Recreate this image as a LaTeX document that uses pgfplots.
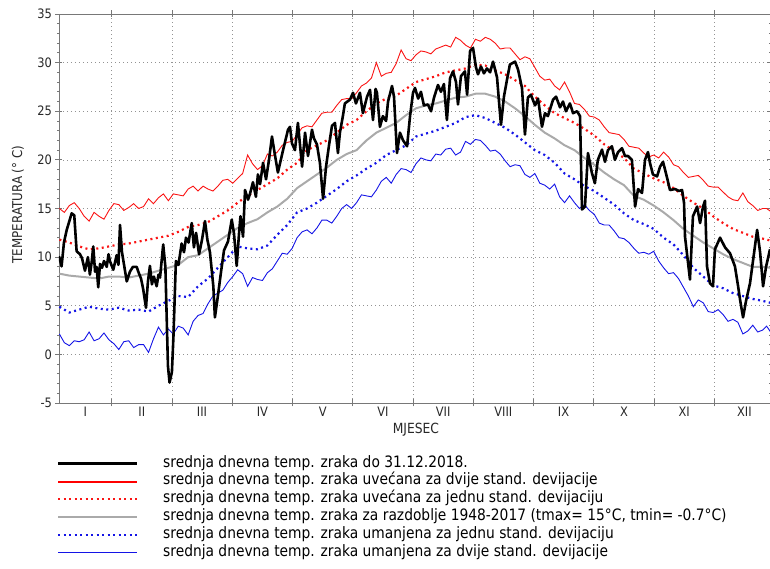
\documentclass[border=0pt]{standalone}
\usepackage{pgfplots}
\pgfplotsset{compat=1.18}
\usepackage{fontspec}
\setmainfont{DejaVu Sans}[FakeStretch=0.88]
\definecolor{myred}{RGB}{250,20,20}
\definecolor{myblue}{RGB}{20,20,230}
\definecolor{mygray}{RGB}{170,170,170}
\definecolor{axgray}{RGB}{120,120,120}
\definecolor{txt}{RGB}{40,40,40}
\begin{document}
\begin{tikzpicture}
\begin{axis}[
  scale only axis, width=711pt, height=389pt,
  xmin=3.8, xmax=362.7, ymin=-5, ymax=35,
  axis line style={axgray, line width=0.8pt},
  xtick={30.42,60.83,91.25,121.67,152.08,182.5,212.92,243.33,273.75,304.17,334.58},
  xticklabels={},
  extra x ticks={17.1,45.6,76.0,106.5,136.9,167.3,197.7,228.1,258.5,289.0,319.4,349.8},
  extra x tick labels={I,II,III,IV,V,VI,VII,VIII,IX,X,XI,XII},
  extra x tick style={major tick length=0pt, xmajorgrids=false},
  ytick={-5,0,5,10,15,20,25,30,35},
  yticklabels={-5,0,5,10,15,20,25,30,35},
  minor y tick num=4,
  tick align=center, major tick length=7pt, minor tick length=3pt,
  tick style={axgray, line width=0.8pt},
  xmajorgrids, ymajorgrids,
  major grid style={axgray!80, line width=0.7pt, dash pattern=on 0.8pt off 3.2pt},
  ticklabel style={font=\fontsize{13}{15}\selectfont, text=txt},
  every axis y label/.style={at={(axis description cs:-0.0577,0.51)}, rotate=90, anchor=center, font=\fontsize{13.5}{15}\selectfont, text=txt},
  every axis x label/.style={at={(axis description cs:0.502,-0.0686)}, anchor=center, font=\fontsize{14}{16}\selectfont, text=txt},
  ylabel={TEMPERATURA (° C)},
  xlabel={MJESEC},
]
\addplot[myblue, line width=0.9pt] coordinates {
(4,2.1)(6.5,1.2)(9,0.9)(11.5,1.4)(14,1.3)(16.5,1.5)(19,2.3)(21.5,1.4)(24,1.6)(26.5,2.2)(29,1.5)(31.5,1.1)(34,0.5)(36.5,1.3)(39,1.4)(41.5,0.7)(44,1.0)(46.5,1.0)(49,0.2)(51.5,1.6)(54,2.8)(56.5,2.0)(59,2.6)(61.5,2.1)(64,2.9)(66.5,2.7)(69,2.0)(71.5,3.4)(74,4.0)(76.5,4.2)(79,5.2)(81.5,6.0)(84,6.3)(86.5,6.6)(89,7.4)(91.5,8.0)(94,8.7)(96.5,8.3)(99,7.0)(101.5,7.9)(104,7.7)(106.5,7.6)(109,8.4)(111.5,8.8)(114,9.6)(116.5,10.4)(119,10.3)(121.5,10.9)(124,12.0)(126.5,12.6)(129,12.8)(131.5,12.4)(134,13.0)(136.5,13.8)(139,13.8)(141.5,13.5)(144,14.2)(146.5,15.0)(149,15.4)(151.5,15.0)(154,15.6)(156.5,16.4)(159,16.3)(161.5,16.2)(164,16.9)(166.5,17.8)(169,18.2)(171.5,17.6)(174,18.5)(176.5,19.1)(179,19.0)(181.5,18.7)(184,19.6)(186.5,20.2)(189,20.0)(191.5,19.9)(194,20.6)(196.5,20.5)(199,21.1)(201.5,21.2)(204,20.5)(206.5,20.8)(209,21.9)(211.5,21.6)(214,22.1)(216.5,22.0)(219,21.5)(221.5,20.9)(224,21.0)(226.5,20.6)(229,19.9)(231.5,19.3)(234,19.5)(236.5,19.4)(239,18.5)(241.5,18.2)(244,18.6)(246.5,17.6)(249,17.4)(251.5,17.0)(254,17.5)(256.5,16.2)(259,15.6)(261.5,16.3)(264,15.6)(266.5,15.0)(269,15.4)(271.5,14.8)(274,14.4)(276.5,13.5)(279,13.3)(281.5,13.3)(284,12.7)(286.5,12.0)(289,11.9)(291.5,11.5)(294,10.9)(296.5,10.4)(299,10.5)(301.5,10.3)(304,10.6)(306.5,9.6)(309,8.9)(311.5,8.3)(314,8.4)(316.5,7.8)(319,6.9)(321.5,6.0)(324,4.9)(326.5,5.6)(329,5.3)(331.5,4.4)(334,4.3)(336.5,4.6)(339,4.1)(341.5,3.4)(344,3.6)(346.5,3.3)(349,2.1)(351.5,2.4)(354,3.0)(356.5,2.3)(359,2.5)(361,2.9)(363,2.3)};
\addplot[myblue, line width=2.2pt, dash pattern=on 2pt off 3.5pt] coordinates {
(4,4.9)(9,4.3)(14,4.6)(19,4.9)(24,4.7)(29,4.6)(34,4.8)(39,4.5)(44,4.6)(49,4.4)(54,5.0)(59,5.5)(64,6.0)(69,5.9)(74,7.0)(79,7.8)(84,8.9)(89,10.0)(94,11.1)(99,10.9)(104,10.8)(109,11.2)(114,12.3)(119,13.3)(124,14.6)(129,15.0)(134,15.6)(139,16.3)(144,17.0)(149,17.8)(154,18.4)(159,19.1)(164,19.7)(169,20.5)(174,21.0)(179,21.5)(184,22.4)(189,22.7)(194,23.0)(199,23.4)(204,23.8)(209,24.4)(214,24.6)(219,24.3)(224,23.8)(229,23.3)(234,22.6)(239,21.8)(244,21.0)(249,20.5)(254,19.7)(259,18.6)(264,18.0)(269,17.3)(274,16.8)(279,16.1)(284,15.4)(289,14.5)(294,13.8)(299,13.4)(304,12.9)(309,12.0)(314,11.3)(319,10.2)(324,8.9)(329,8.0)(334,7.1)(339,6.8)(344,6.3)(349,6.0)(354,5.7)(359,5.5)(363,5.3)};
\addplot[mygray, line width=2pt] coordinates {
(4,8.3)(9,8.1)(14,8.0)(19,7.9)(24,7.8)(29,8.0)(34,8.0)(39,7.9)(44,8.1)(49,8.3)(54,8.6)(59,8.9)(64,9.2)(69,10.0)(74,10.2)(79,10.9)(84,11.6)(89,12.3)(94,13.0)(99,13.5)(104,13.9)(109,14.6)(114,15.2)(119,16.0)(124,17.1)(129,17.8)(134,18.5)(139,19.2)(144,20.0)(149,20.6)(154,21.0)(159,22.0)(164,22.8)(169,23.3)(174,23.8)(179,24.6)(184,25.3)(189,25.6)(194,25.8)(199,26.1)(204,26.4)(209,26.5)(214,26.8)(219,26.8)(224,26.5)(229,26.0)(234,25.3)(239,24.5)(244,23.6)(249,22.8)(254,22.2)(259,21.5)(264,21.0)(269,20.2)(274,19.5)(279,18.7)(284,18.0)(289,17.4)(294,16.3)(299,15.9)(304,15.3)(309,14.6)(314,13.8)(319,12.9)(324,12.2)(329,11.5)(334,10.9)(339,10.3)(344,9.8)(349,9.4)(354,9.0)(359,9.0)(363,8.9)};
\addplot[myred, line width=2.2pt, dash pattern=on 2pt off 3.5pt] coordinates {
(4,11.8)(9,11.5)(14,11.1)(19,10.8)(24,10.9)(29,11.1)(34,11.3)(39,11.4)(44,11.6)(49,11.8)(54,12.0)(59,12.2)(64,12.6)(69,13.1)(74,13.3)(79,13.6)(84,14.2)(89,14.8)(94,15.6)(99,16.3)(104,16.9)(109,17.5)(114,18.1)(119,19.0)(124,19.7)(129,21.0)(134,21.5)(139,22.0)(144,22.8)(149,23.6)(154,24.1)(159,25.0)(164,25.8)(169,26.3)(174,26.6)(179,27.3)(184,28.0)(189,28.3)(194,28.6)(199,29.0)(204,29.2)(209,29.4)(214,29.8)(219,29.7)(224,29.2)(229,28.8)(234,28.2)(239,27.6)(244,26.5)(249,25.6)(254,24.8)(259,24.3)(264,23.8)(269,23.2)(274,22.5)(279,21.6)(284,20.9)(289,20.2)(294,19.1)(299,18.6)(304,18.1)(309,17.7)(314,17.1)(319,16.3)(324,15.6)(329,15.0)(334,14.2)(339,13.5)(344,12.9)(349,12.5)(354,12.1)(359,11.9)(363,11.7)};
\addplot[myred, line width=0.9pt] coordinates {
(4,15.0)(6.5,14.6)(9,15.3)(11.5,15.6)(14,15.0)(16.5,14.2)(19,13.7)(21.5,14.6)(24,14.2)(26.5,13.9)(29,14.8)(31.5,15.5)(34,15.4)(36.5,14.8)(39,15.1)(41.5,15.5)(44,15.0)(46.5,15.2)(49,16.0)(51.5,15.5)(54,16.1)(56.5,16.5)(59,15.8)(61.5,16.5)(64,16.4)(66.5,16.3)(69,17.0)(71.5,17.3)(74,16.8)(76.5,17.3)(79,17.0)(81.5,16.8)(84,17.3)(86.5,17.9)(89,18.0)(91.5,17.6)(94,18.1)(96.5,18.6)(99,20.5)(101.5,19.6)(104,19.0)(106.5,19.4)(109,20.6)(111.5,20.4)(114,20.8)(116.5,21.5)(119,21.8)(121.5,21.9)(124,22.6)(126.5,23.3)(129,23.5)(131.5,23.4)(134,24.1)(136.5,24.8)(139,24.9)(141.5,24.9)(144,25.6)(146.5,26.2)(149,26.3)(151.5,26.3)(154,26.9)(156.5,27.6)(159,27.9)(161.5,28.4)(164,30.0)(166.5,28.6)(169,28.9)(171.5,29.0)(174,29.9)(176.5,31.3)(179,30.4)(181.5,30.2)(184,30.8)(186.5,31.2)(189,31.1)(191.5,30.9)(194,31.4)(196.5,31.6)(199,31.8)(201.5,31.6)(204,32.6)(206.5,32.3)(209,31.8)(211.5,31.5)(214,32.4)(216.5,32.2)(219,32.6)(221.5,32.4)(224,32.0)(226.5,31.4)(229,31.5)(231.5,31.5)(234,30.9)(236.5,30.3)(239,30.6)(241.5,30.4)(244,29.5)(246.5,28.6)(249,28.2)(251.5,28.3)(254,27.6)(256.5,27.2)(259,28.0)(261.5,27.0)(264,25.8)(266.5,25.7)(269,25.2)(271.5,24.5)(274,24.4)(276.5,24.1)(279,23.4)(281.5,22.8)(284,22.7)(286.5,22.6)(289,22.1)(291.5,21.4)(294,21.3)(296.5,21.2)(299,20.7)(301.5,20.3)(304,20.5)(306.5,20.2)(309,20.8)(311.5,20.3)(314,19.5)(316.5,19.3)(319,18.7)(321.5,18.2)(324,18.3)(326.5,18.4)(329,17.9)(331.5,17.3)(334,17.2)(336.5,17.2)(339,16.7)(341.5,16.2)(344,15.9)(346.5,15.8)(349,16.6)(351.5,15.7)(354,15.3)(356.5,14.8)(359,15.0)(361,15.0)(363,14.7)};
\addplot[black, line width=2.6pt, line join=round] coordinates {
(3.8,10.1)(5.1,9.05)(6.3,11.5)(7.7,12.8)(10.2,14.5)(11.5,14.3)(12.7,10.6)(14.4,10.3)(15.4,9.9)(16.9,8.6)(18.4,10.0)(19.4,8.2)(20.3,9.5)(21.1,11.1)(22.0,8.5)(22.8,9.0)(23.6,6.9)(24.5,9.3)(25.5,8.9)(26.5,9.6)(27.9,9.0)(28.8,10.3)(29.5,9.6)(31.2,8.7)(32.9,10.2)(33.8,9.2)(34.6,13.3)(35.6,10.5)(38.0,7.5)(39.6,8.5)(41.1,9.0)(43.0,9.0)(44.2,8.3)(45.2,7.8)(46.3,6.7)(47.7,4.8)(48.7,7.5)(49.7,9.1)(50.7,7.2)(51.7,8.0)(53.1,7.0)(54.0,8.2)(54.8,7.9)(56.4,11.3)(57.5,9.0)(58.8,-1.2)(59.6,-2.9)(60.8,-1.8)(61.6,2.0)(62.8,9.6)(64.1,9.2)(65.7,11.4)(66.9,10.5)(67.9,12.0)(69.2,11.5)(70.8,13.5)(71.9,11.0)(73.0,12.5)(74.5,10.3)(76.0,11.8)(77.5,13.7)(78.7,11.8)(80.0,10.5)(81.7,7.0)(82.5,3.8)(84.0,6.0)(85.6,8.5)(87.1,10.7)(89.1,11.6)(91.0,13.85)(92.1,12.5)(93.5,9.1)(94.7,12.5)(95.4,14.2)(96.7,12.1)(97.7,16.9)(99.2,15.9)(100.2,16.5)(101.7,17.7)(103.2,16.2)(104.2,18.5)(105.3,17.5)(106.8,19.7)(108.3,18.0)(109.8,20.0)(111.3,22.4)(112.8,20.5)(114.3,18.7)(116.9,21.0)(119.4,23.1)(120.4,23.4)(121.4,21.7)(122.9,21.0)(124.4,23.8)(126.5,19.3)(128.0,22.8)(129.5,20.4)(131.5,23.1)(132.5,22.2)(134.0,21.6)(135.5,19.7)(137.1,16.0)(138.6,19.3)(140.1,21.5)(141.6,23.5)(143.1,23.8)(144.6,20.7)(145.6,22.8)(147.1,24.5)(148.1,25.8)(150.7,26.2)(152.2,26.9)(153.7,25.8)(155.7,26.9)(157.2,24.8)(159.3,26.5)(160.8,27.2)(162.3,24.1)(163.6,27.3)(164.3,26.9)(165.8,23.4)(167.3,24.5)(168.9,24.0)(169.9,26.0)(171.9,27.6)(172.9,26.5)(174.4,20.7)(175.9,22.8)(177.5,22.0)(179.5,21.4)(181.0,24.5)(182.5,26.9)(183.5,27.4)(185.1,26.3)(186.5,27.0)(188.0,25.6)(190.0,25.7)(191.6,25.0)(193.1,26.4)(195.1,27.7)(196.6,27.0)(198.1,27.8)(199.6,24.1)(201.2,28.4)(202.7,29.1)(204.2,28.0)(205.2,25.7)(206.7,28.6)(208.7,29.1)(209.8,26.7)(211.3,31.2)(212.8,31.5)(214.3,29.5)(215.3,28.8)(216.8,29.6)(218.3,28.9)(219.8,29.4)(221.4,29.0)(222.9,30.1)(224.9,28.5)(225.9,26.0)(226.9,23.6)(228.4,26.5)(229.9,28.2)(231.4,29.8)(234.0,30.1)(235.5,29.3)(237.5,27.4)(239.0,22.6)(240.5,26.4)(242.0,26.7)(244.1,25.6)(245.6,26.3)(247.6,23.4)(249.1,24.8)(250.6,24.5)(253.2,26.2)(254.7,26.5)(256.7,25.4)(258.2,26.0)(259.7,25.0)(261.7,25.8)(263.3,24.8)(265.3,25.0)(266.8,24.5)(267.8,14.9)(269.3,15.2)(270.8,20.7)(272.8,18.65)(274.3,17.6)(275.8,20.0)(277.9,21.05)(279.4,19.8)(280.9,21.0)(282.9,21.4)(284.4,20.0)(286.0,20.8)(288.0,21.2)(289.5,20.4)(291.0,20.4)(293.0,20.0)(294.6,15.2)(296.1,17.0)(298.1,16.6)(299.6,20.0)(301.1,20.8)(302.1,19.7)(303.6,18.5)(305.7,18.3)(307.2,19.3)(308.7,19.8)(310.7,18.2)(312.2,16.9)(314.8,17.0)(316.8,16.8)(318.3,16.9)(319.3,15.6)(319.8,12.1)(322.3,7.7)(323.8,14.2)(325.9,15.2)(327.4,13.5)(328.9,15.2)(329.9,15.8)(330.9,9.05)(332.4,7.3)(333.9,7.0)(334.9,10.8)(337.5,12.0)(340.0,11.0)(342.5,10.4)(345.0,9.05)(346.6,7.0)(347.6,5.6)(349.1,3.8)(350.6,5.5)(352.6,7.3)(354.7,10.5)(356.2,12.8)(357.7,10.5)(359.2,7.0)(360.7,9.0)(362.7,10.8)};
\end{axis}
\begin{scope}[every node/.style={anchor=west, inner sep=0pt, text height=10pt, text depth=3pt, font=\fontsize{15.7}{17}\selectfont}]
\draw[black, line width=3pt] (-1pt,-60.7pt) -- (78pt,-60.7pt);
\node at (104pt,-60.7pt) {srednja dnevna temp. zraka do 31.12.2018.};
\draw[red, line width=1.8pt] (-1pt,-79pt) -- (78pt,-79pt);
\node at (104pt,-78.5pt) {srednja dnevna temp. zraka uvećana za dvije stand. devijacije};
\draw[myred, line width=2.2pt, dash pattern=on 2pt off 3.5pt] (-1pt,-96.3pt) -- (78pt,-96.3pt);
\node at (104pt,-96.3pt) {srednja dnevna temp. zraka uvećana za jednu stand. devijaciju};
\draw[mygray, line width=2pt] (-1pt,-114.1pt) -- (78pt,-114.1pt);
\node at (104pt,-114.1pt) {srednja dnevna temp. zraka za razdoblje 1948-2017 (tmax= 15°C, tmin= -0.7°C)};
\draw[myblue, line width=2.2pt, dash pattern=on 2pt off 3.5pt] (-1pt,-131.9pt) -- (78pt,-131.9pt);
\node at (104pt,-131.9pt) {srednja dnevna temp. zraka umanjena za jednu stand. devijaciju};
\draw[myblue, line width=1.2pt] (-1pt,-149.7pt) -- (78pt,-149.7pt);
\node at (104pt,-149.7pt) {srednja dnevna temp. zraka umanjena za dvije stand. devijacije};
\end{scope}
\pgfresetboundingbox
\path[use as bounding box] (-59pt,-166pt) rectangle (711pt,403pt);
\end{tikzpicture}
\end{document}
